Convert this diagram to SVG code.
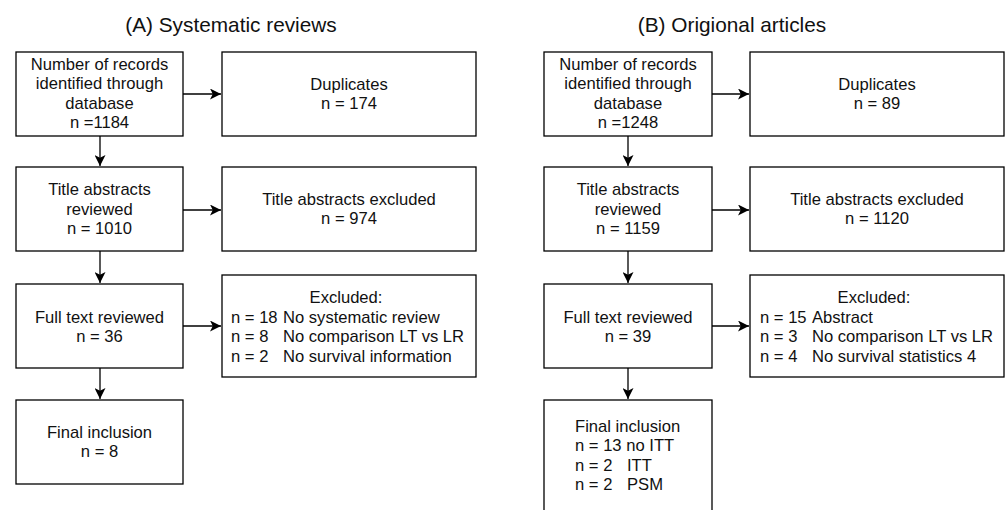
<svg xmlns="http://www.w3.org/2000/svg" width="1006" height="510" viewBox="0 0 1006 510">
<style>
.box{fill:#fff;stroke:#000;stroke-width:1.3}
text{font-family:"Liberation Sans",Arial,sans-serif;font-size:16.6px;fill:#111}
.c{text-anchor:middle}
.t{font-size:20.8px}
.ln{fill:none;stroke:#000;stroke-width:1.3}
</style>
<defs>
<marker id="ah" viewBox="0 0 11 11" refX="11" refY="5.5" markerWidth="11" markerHeight="11" markerUnits="userSpaceOnUse" orient="auto">
<path d="M0,0 L11,5.5 L0,11 L2.8,5.5 Z" fill="#000"/>
</marker>
</defs>
<rect width="1006" height="510" fill="#fff"/>
<text class="c t" x="231" y="32">(A) Systematic reviews</text>
<text class="c t" x="732" y="32">(B) Origional articles</text>

<g id="connectors">
<path class="ln" d="M183,94 H221" marker-end="url(#ah)"/>
<path class="ln" d="M100,136 V166" marker-end="url(#ah)"/>
<path class="ln" d="M183,210 H221" marker-end="url(#ah)"/>
<path class="ln" d="M100,251 V283" marker-end="url(#ah)"/>
<path class="ln" d="M183,326 H221" marker-end="url(#ah)"/>
<path class="ln" d="M100,368 V399" marker-end="url(#ah)"/>
<path class="ln" d="M712,94 H749" marker-end="url(#ah)"/>
<path class="ln" d="M628,136 V166" marker-end="url(#ah)"/>
<path class="ln" d="M712,210 H749" marker-end="url(#ah)"/>
<path class="ln" d="M628,251 V283" marker-end="url(#ah)"/>
<path class="ln" d="M712,326 H749" marker-end="url(#ah)"/>
<path class="ln" d="M628,368 V399" marker-end="url(#ah)"/>
</g>

<g id="a-records">
<rect class="box" x="16" y="52" width="167" height="84"/>
<text class="c" x="99.5" y="70">Number of records</text>
<text class="c" x="99.5" y="89">identified through</text>
<text class="c" x="99.5" y="109">database</text>
<text class="c" x="99.5" y="128">n =1184</text>
</g>
<g id="a-duplicates">
<rect class="box" x="222" y="52" width="254" height="84"/>
<text class="c" x="349" y="90">Duplicates</text>
<text class="c" x="349" y="109">n = 174</text>
</g>
<g id="a-title">
<rect class="box" x="16" y="167" width="167" height="84"/>
<text class="c" x="99.5" y="195">Title abstracts</text>
<text class="c" x="99.5" y="215">reviewed</text>
<text class="c" x="99.5" y="234">n = 1010</text>
</g>
<g id="a-title-excl">
<rect class="box" x="222" y="167" width="254" height="84"/>
<text class="c" x="349" y="205">Title abstracts excluded</text>
<text class="c" x="349" y="224">n = 974</text>
</g>
<g id="a-full">
<rect class="box" x="16" y="284" width="167" height="84"/>
<text class="c" x="99.5" y="323">Full text reviewed</text>
<text class="c" x="99.5" y="342">n = 36</text>
</g>
<g id="a-excl">
<rect class="box" x="222" y="275" width="254" height="102"/>
<text class="c" x="346" y="303">Excluded:</text>
<text x="231" y="323">n = 18<tspan x="283">No systematic review</tspan></text>
<text x="231" y="342">n = 8<tspan x="283">No comparison LT vs LR</tspan></text>
<text x="231" y="362">n = 2<tspan x="283">No survival information</tspan></text>
</g>
<g id="a-final">
<rect class="box" x="16" y="400" width="167" height="84"/>
<text class="c" x="99.5" y="438">Final inclusion</text>
<text class="c" x="99.5" y="457">n = 8</text>
</g>

<g id="b-records">
<rect class="box" x="544" y="52" width="168" height="84"/>
<text class="c" x="628" y="70">Number of records</text>
<text class="c" x="628" y="89">identified through</text>
<text class="c" x="628" y="109">database</text>
<text class="c" x="628" y="128">n =1248</text>
</g>
<g id="b-duplicates">
<rect class="box" x="750" y="52" width="254" height="84"/>
<text class="c" x="877" y="90">Duplicates</text>
<text class="c" x="877" y="109">n = 89</text>
</g>
<g id="b-title">
<rect class="box" x="544" y="167" width="168" height="84"/>
<text class="c" x="628" y="195">Title abstracts</text>
<text class="c" x="628" y="215">reviewed</text>
<text class="c" x="628" y="234">n = 1159</text>
</g>
<g id="b-title-excl">
<rect class="box" x="750" y="167" width="254" height="84"/>
<text class="c" x="877" y="205">Title abstracts excluded</text>
<text class="c" x="877" y="224">n = 1120</text>
</g>
<g id="b-full">
<rect class="box" x="544" y="284" width="168" height="84"/>
<text class="c" x="628" y="323">Full text reviewed</text>
<text class="c" x="628" y="342">n = 39</text>
</g>
<g id="b-excl">
<rect class="box" x="750" y="275" width="254" height="102"/>
<text class="c" x="874" y="303">Excluded:</text>
<text x="760" y="323">n = 15<tspan x="812">Abstract</tspan></text>
<text x="760" y="342">n = 3<tspan x="812">No comparison LT vs LR</tspan></text>
<text x="760" y="362">n = 4<tspan x="812">No survival statistics 4</tspan></text>
</g>
<g id="b-final">
<rect class="box" x="544" y="400" width="168" height="120"/>
<text x="575" y="432">Final inclusion</text>
<text x="575" y="451">n = 13 no ITT</text>
<text x="575" y="471">n = 2<tspan x="627">ITT</tspan></text>
<text x="575" y="490">n = 2<tspan x="627">PSM</tspan></text>
</g>
</svg>
